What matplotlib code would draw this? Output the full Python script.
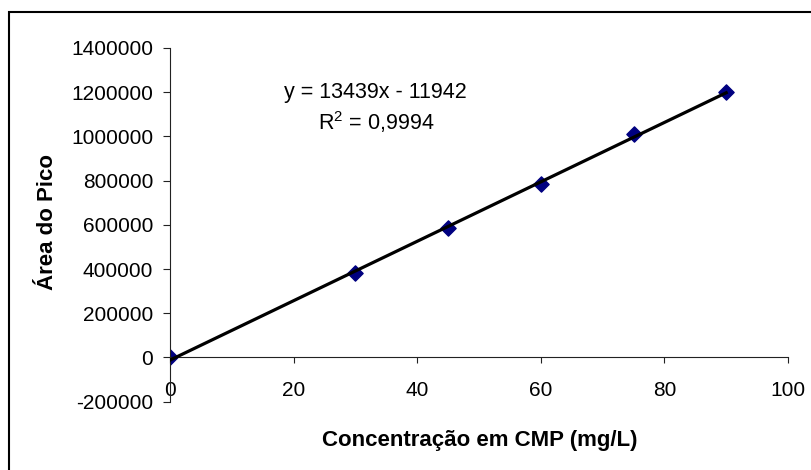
import numpy as np
import matplotlib.pyplot as plt
from matplotlib.patches import Rectangle

plt.rcParams['font.family'] = ['Liberation Sans', 'DejaVu Sans']
plt.rcParams['mathtext.fontset'] = 'custom'
plt.rcParams['mathtext.rm'] = 'Liberation Sans'

# calibration points
conc = [0, 30, 45, 60, 75, 90]
area = [0, 383000, 584000, 787000, 1009000, 1199000]

# linear trendline as printed on the chart
slope = 13439
intercept = -11942
r2_text = "0,9994"

xticks = [0, 20, 40, 60, 80, 100]
yticks = [-200000, 0, 200000, 400000, 600000, 800000, 1000000, 1200000, 1400000]

fig = plt.figure(figsize=(8.11, 4.70), dpi=100)
ax = fig.add_axes([170/811, 1 - 401.7/470, 618/811, 353.7/470])

# outer chart frame (only top and left edges fall inside the image)
fig.patches.append(Rectangle((9/811, -0.1), 1.2, 1.1 - 12/470,
                             transform=fig.transFigure, fill=False,
                             edgecolor='black', lw=1.5, clip_on=False))

ax.scatter(conc, area, marker='D', s=60, color='#000080', zorder=2)
xfit = np.array([conc[0], conc[-1]])
ax.plot(xfit, slope*xfit + intercept, color='black', lw=2.3, zorder=3)

ax.set_xlim(0, 100)
ax.set_ylim(-200000, 1400000)
ax.set_xticks(xticks)
ax.set_yticks(yticks)
ax.set_xticklabels([str(t) for t in xticks])
ax.set_yticklabels([str(t) for t in yticks])

for s in ['top', 'right']:
    ax.spines[s].set_visible(False)
ax.spines['bottom'].set_position(('data', 0))
for s in ['left', 'bottom']:
    ax.spines[s].set_linewidth(0.8)
    ax.spines[s].set_color('#222222')

ax.tick_params(axis='y', direction='out', length=5, width=0.8, pad=7,
               labelsize=15, color='#222222')
ax.tick_params(axis='x', direction='out', length=4, width=0.8, pad=13,
               labelsize=15, color='#222222')

ax.set_xlabel("Concentração em CMP (mg/L)", fontsize=16, fontweight='bold')
ax.xaxis.set_label_coords(0.502, -0.08)
ax.set_ylabel("Área do Pico", fontsize=16, fontweight='bold')
ax.yaxis.set_label_coords(-0.181, 0.508)

ax.text(33.3, 1200500, f"y = {slope}x - {abs(intercept)}", fontsize=15.5,
        ha='center', va='center')
ax.text(33.3, 1064000, "R$^2$ = " + r2_text, fontsize=15.5,
        ha='center', va='center')

fig.savefig("out.png", dpi=100)
